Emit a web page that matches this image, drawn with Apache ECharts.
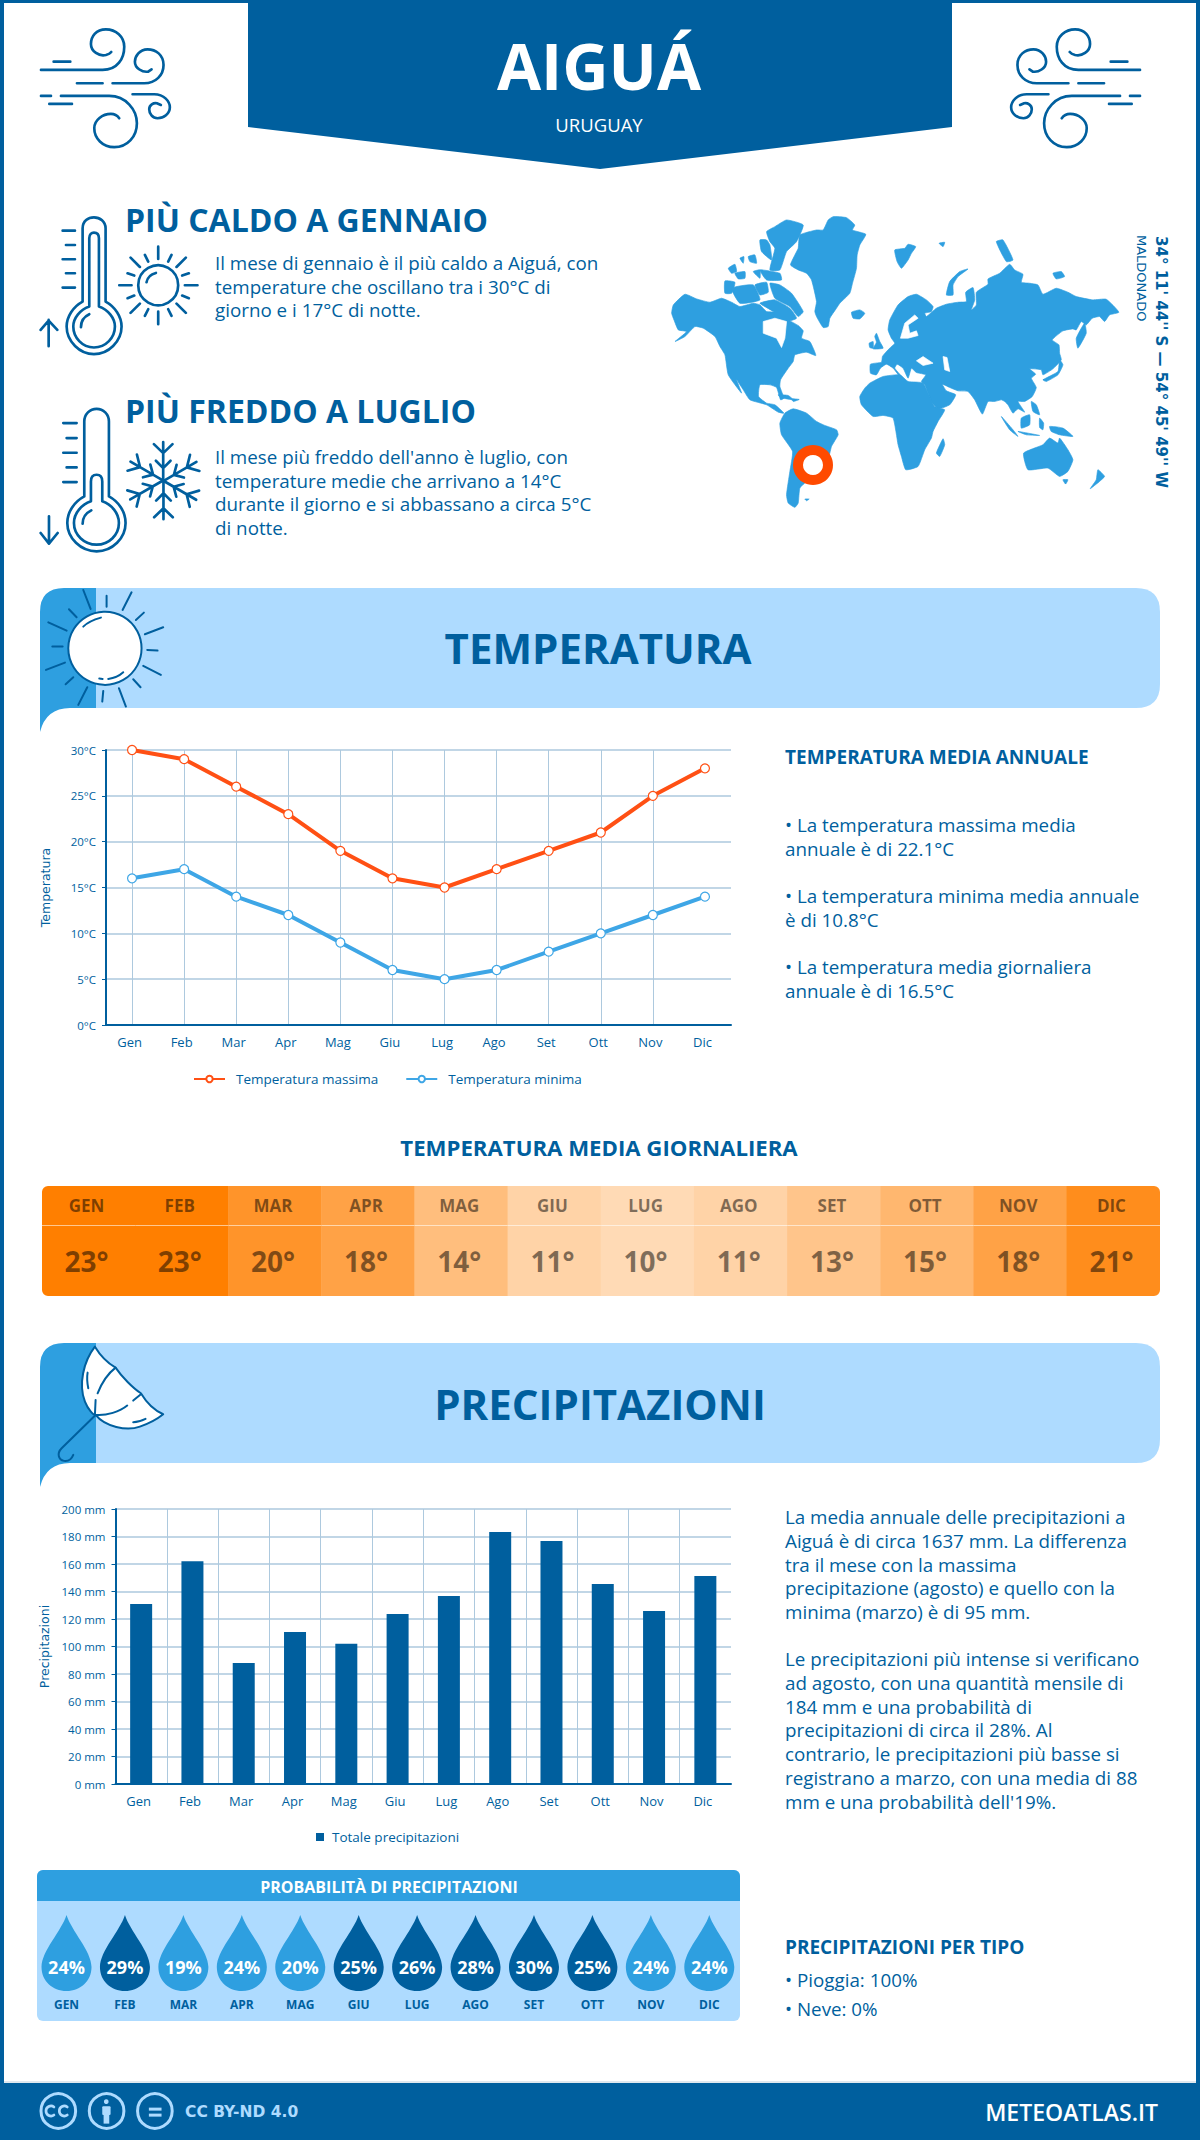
<!DOCTYPE html>
<html>
<head>
<meta charset="utf-8">
<title>Aiguá</title>
<style>
  html,body{margin:0;padding:0;background:#fff;}
  #main{width:1200px;height:2140px;}
</style>
<script src="https://cdn.jsdelivr.net/npm/echarts@6/dist/echarts.min.js"></script>
</head>
<body>
<div id="main"></div>
<script>
// ---- data ----
const MONTHS = ['Gen','Feb','Mar','Apr','Mag','Giu','Lug','Ago','Set','Ott','Nov','Dic'];
const MONTHS_UP = ['GEN','FEB','MAR','APR','MAG','GIU','LUG','AGO','SET','OTT','NOV','DIC'];
const TEMP_MAX = [30,29,26,23,19,16,15,17,19,21,25,28];
const TEMP_MIN = [16,17,14,12,9,6,5,6,8,10,12,14];
const TEMP_AVG = [23,23,20,18,14,11,10,11,13,15,18,21];
const PRECIP = [131,162,88,110.5,102,123.6,136.7,183.3,176.7,145.5,125.8,151.3];
const PRECIP_PROB = [24,29,19,24,20,25,26,28,30,25,24,24];

const HOT_LINES = ['Il mese di gennaio è il più caldo a Aiguá, con','temperature che oscillano tra i 30°C di','giorno e i 17°C di notte.'];
const COLD_LINES = ["Il mese più freddo dell'anno è luglio, con",'temperature medie che arrivano a 14°C','durante il giorno e si abbassano a circa 5°C','di notte.'];
const ANNUAL_1 = ['• La temperatura massima media','annuale è di 22.1°C'];
const ANNUAL_2 = ['• La temperatura minima media annuale','è di 10.8°C'];
const ANNUAL_3 = ['• La temperatura media giornaliera','annuale è di 16.5°C'];
const RAIN_1 = ['La media annuale delle precipitazioni a','Aiguá è di circa 1637 mm. La differenza','tra il mese con la massima','precipitazione (agosto) e quello con la','minima (marzo) è di 95 mm.'];
const RAIN_2 = ['Le precipitazioni più intense si verificano','ad agosto, con una quantità mensile di','184 mm e una probabilità di','precipitazioni di circa il 28%. Al','contrario, le precipitazioni più basse si','registrano a marzo, con una media di 88',"mm e una probabilità dell'19%."];

// ---- colours ----
const BLUE = '#005f9e';
const MID = '#2e9fe0';
const LIGHT = '#aedbff';
const GRIDC = '#adc9de';
const FONT = '"Open Sans", sans-serif';
const BODY = '18.8px ' + FONT;

// ---- graphic helpers ----
let shapeNo = 0;
function path(d, style){
  const name = 'p' + (++shapeNo);
  echarts.graphic.registerShape(name, echarts.graphic.extendPath(d));
  return { type:name, style:style };
}
function stroke(d, w, color){
  return path(d, { fill:'none', stroke:color || BLUE, lineWidth:w, lineCap:'round', lineJoin:'round' });
}
function text(x, y, str, font, fill, align){
  return { type:'text', x:x, y:y, style:{ text:str, font:font, fill:fill || BLUE, textAlign:align || 'left', textVerticalAlign:'middle' } };
}
function para(x, y, step, lines){
  return lines.map((s, i) => text(x, y + i * step, s, BODY));
}
function rect(x, y, w, h, fill, r){
  return { type:'rect', shape:{ x:x, y:y, width:w, height:h, r:r || 0 }, style:{ fill:fill } };
}
function crop(x, y, children, sx){
  return { type:'group', x:x, y:y, scaleX:sx || 1/3, scaleY:1/3, children:children };
}

// ---- icons (crop pixels, 3x) ----
const WIND = 'M30 150H215C260 150 280 115 280 80C280 50 255 28 225 28C195 28 180 50 180 72C180 95 205 110 225 105C232 103 238 100 241 96'
  + 'M68 125H118M138 190H215M245 190H340C375 190 398 165 398 135C398 105 375 88 350 88C325 88 312 110 312 125C312 145 335 158 352 155L362 148'
  + 'M30 228H60M90 228H235C285 228 318 270 318 310C318 350 290 382 250 382C215 382 190 355 190 325C190 300 215 282 240 282C252 282 260 288 265 295'
  + 'M55 252H123M305 223H370C400 223 417 245 417 262C417 282 398 295 380 295C365 295 355 282 355 268C355 255 368 248 378 250L390 255';
const THERMO_HOT = 'M158 290V70C158 48 175 37 192 37C210 37 227 50 227 70V290C255 305 275 335 275 365C275 410 235 448 192 448C150 448 110 410 110 365C110 335 130 305 158 290Z'
  + 'M178 305V100C178 88 185 83 192 83C200 83 207 88 207 100V305C235 315 255 340 255 365C255 398 228 428 192 428C157 428 130 398 130 365C130 340 150 315 178 305Z'
  + 'M153 367C153 350 163 335 178 328M98 77H135M108 120H135M98 163H135M108 205H135M98 248H135M56 424V345M32 375L56 347L82 375';
const SUN_RAYS = 'M385 125V162M385 320V358M268 241H305M465 241H503M302 158L330 186M468 158L440 186M302 324L330 296M468 324L440 296'
  + 'M345 150L355 170M425 150L415 170M293 205L313 212M477 205L457 212M293 280L313 272M477 280L457 272M345 333L355 313M425 333L415 313M350 232C352 220 362 208 378 204';
const THERMO_COLD = 'M163 875V650C163 628 180 612 200 612C220 612 237 628 237 650V875C265 890 287 920 287 955C287 1000 248 1040 200 1040C152 1040 112 1000 112 955C112 920 135 890 163 875Z'
  + 'M183 890V830C183 815 190 810 200 810C210 810 217 815 217 830V890C245 900 267 925 267 955C267 990 238 1020 200 1020C162 1020 132 990 132 955C132 925 155 900 183 890Z'
  + 'M158 957C158 940 168 925 184 917M100 655H140M110 700H140M100 744H140M110 788H140M100 832H140M57 935V1015M32 985L57 1017L83 985';
const FLAKE_ARM = 'M400 827V712M372 718L400 745L428 718M378 768L400 790L422 768';
const BIG_SUN_RAYS = 'M160 30L182 87M230 47V80M305 37L278 90M342 98L318 120M400 142L345 163M383 212L352 210M393 285L340 258M332 322L310 298M288 380L267 325M217 365L220 333M145 375L172 322M107 313L130 292M48 270L105 248M67 200L98 200M55 127L110 152M117 88L140 112';
const BIG_SUN_SHINE = 'M160 140C175 125 195 118 213 113M208 296L218 297M235 297C250 295 268 288 280 277';
const UMB_CANOPY = 'M195 35C160 80 145 150 165 200C175 225 190 240 197 240C225 275 290 290 330 275C360 265 385 250 400 238C370 225 345 195 333 175C310 160 275 125 257 98C235 85 210 60 195 35Z';
const UMB_LINES = 'M257 98C235 115 215 145 203 175M197 195L195 238M197 240C230 243 270 230 292 212M310 197L333 178M173 113C170 130 172 145 175 160M310 262C322 262 335 258 347 252M197 240L95 340C80 355 85 375 102 378C115 380 125 372 130 360';
const CC_C = 'M72 96C62 88 48 96 48 108C48 120 62 128 72 120M112 96C102 88 88 96 88 108C88 120 102 128 112 120';
const DROP = 'path://M50 0C60 40 100 90 100 130C100 165 78 190 50 190C22 190 0 165 0 130C0 90 40 40 50 0Z';

// map outlines, traced by hand in crop pixels
const MAP_LAND = [
  // Greenland
  '490,75 505,45 520,35 560,38 585,60 578,75 618,88 600,120 592,150 590,190 578,235 570,265 540,295 530,310 510,340 505,365 490,368 470,335 465,320 470,290 455,225 440,205 415,195 392,180 405,150 415,130 420,90 470,75',
  // North America
  '35,325 40,300 75,268 110,282 150,292 185,280 215,292 240,305 280,295 300,300 320,320 345,322 385,345 415,362 430,378 425,400 450,410 468,452 440,442 405,450 400,470 385,490 362,525 360,545 372,580 362,585 350,548 330,540 300,540 296,575 320,595 345,600 372,625 355,622 320,600 270,585 250,555 230,525 245,565 205,510 195,450 180,425 165,395 130,370 105,365 75,395 45,410 80,380 55,375 42,345',
  '300,295 345,285 390,310 410,340 380,350 345,335 340,320',
  // Arctic islands
  '320,80 345,65 380,45 430,60 410,110 380,140 360,195 330,195 345,130 330,110',
  '330,235 360,240 395,265 430,320 415,335 390,305 345,280',
  '195,228 225,232 215,265 195,265','215,250 280,240 300,285 240,295','205,190 225,178 230,200 215,205','225,205 255,200 255,220 235,222','280,200 300,195 300,220',
  '300,105 320,105 330,120 335,165 305,140','265,155 285,150 290,175 270,170','300,195 360,205 365,225 320,225','240,160 252,155 250,175',
  '285,240 320,232 325,262 300,270',
  // Caribbean
  '355,570 385,572 400,585 362,578','395,582 418,584 400,590',
  // South America
  '360,655 375,625 400,612 440,625 470,650 495,662 530,675 535,690 515,725 510,745 495,790 440,830 420,850 415,895 405,908 385,895 380,870 390,800 398,740 365,690',
  // Iceland, Svalbard, Novaya Zemlya, British Isles
  '575,322 600,315 615,325 600,342 580,340',
  '705,135 735,130 745,118 768,125 755,145 745,165 725,190 712,170','838,115 855,112 850,125',
  '860,270 870,230 900,200 925,192 895,215 880,240 880,270',
  '650,385 660,410 670,430 640,432 650,412 645,395','628,415 640,410 640,430 630,428',
  // Eurasia
  '632,505 632,478 665,472 668,455 680,440 695,425 705,415 695,400 685,375 690,345 715,300 745,275 770,268 800,285 820,305 815,320 795,325 800,335 830,310 860,298 895,292 920,290 918,262 940,248 945,285 935,315 950,300 950,262 985,238 985,222 1020,205 1050,178 1065,195 1090,208 1085,232 1110,235 1135,240 1150,268 1190,250 1225,262 1250,275 1300,285 1340,283 1378,322 1350,330 1335,350 1320,335 1298,340 1280,360 1265,350 1250,375 1240,372 1210,378 1178,405 1198,420 1200,445 1205,465 1180,492 1150,510 1145,495 1110,492 1128,508 1115,520 1130,548 1118,575 1095,590 1075,590 1095,622 1075,612 1060,625 1045,600 1035,590 1025,585 1005,590 985,590 968,628 945,585 925,560 895,558 870,548 848,538 860,558 888,570 870,600 835,612 815,590 795,540 785,530 798,510 770,503 755,490 745,520 730,490 712,478 705,490 735,525 720,515 700,490 680,478 662,490 650,510',
  // Africa
  '600,575 615,550 630,535 670,515 720,510 745,530 790,535 825,605 855,615 835,650 820,680 815,700 795,735 775,785 738,795 725,755 715,720 700,640 670,632 640,635 605,600',
  '830,745 850,702 855,720 840,755',
  // Indonesia, New Guinea, Australia, New Zealand
  '1025,635 1060,675 1075,695 1050,675','1075,680 1140,692 1100,690','1085,640 1110,630 1110,660 1085,670','1115,590 1130,600 1140,630 1120,620','1140,640 1152,655 1150,675 1140,668',
  '1170,665 1210,670 1240,695 1200,690 1175,680',
  '1092,745 1150,720 1170,700 1195,715 1200,700 1225,735 1240,765 1225,800 1200,815 1165,790 1105,795','1210,825 1225,825 1218,838',
  '1315,795 1335,815 1320,830 1292,852 1310,825',
  // Japan, Sakhalin, northern islands
  '1150,525 1195,500 1200,465 1210,480 1195,510 1160,530','1250,400 1275,355 1280,385 1255,430',
  '1010,110 1030,105 1060,165 1040,170','1180,205 1205,200 1215,215 1190,222','435,883 448,883 440,888'
];
const MAP_WATER = [
  '310,350 345,340 380,350 375,400 365,428 350,400 310,385',
  '770,468 790,455 820,475 790,482','850,455 862,458 870,500 855,495',
  '722,400 735,355 765,330 775,340 745,360 750,385 770,378 775,392 745,400'
];
function polys(list, color, smooth){
  return list.map(s => ({
    type:'polygon',
    shape:{ points:s.split(' ').map(p => p.split(',').map(Number)), smooth:smooth },
    style:{ fill:color, stroke:color, lineWidth:2, lineJoin:'round' }
  }));
}

// banner with the curled left edge
function banner(y){
  return [
    path(`M96 ${y}H1136Q1160 ${y} 1160 ${y+24}V${y+96}Q1160 ${y+120} 1136 ${y+120}H96Z`, { fill:LIGHT }),
    path(`M40 ${y+144}V${y+24}Q40 ${y} 64 ${y}H96V${y+120}H70Q46 ${y+120} 40 ${y+144}Z`, { fill:MID })
  ];
}

const FLAKE = [0,1,2,3,4,5].map(i => Object.assign(stroke(FLAKE_ARM, 8), { originX:400, originY:827, rotation:i * Math.PI / 3 }));

const graphics = [
  // frame and header
  rect(0, 0, 1200, 3, BLUE), rect(0, 0, 4, 2140, BLUE), rect(1196, 0, 4, 2140, BLUE),
  { type:'polygon', shape:{ points:[[248,0],[952,0],[952,127],[600,169],[248,127]] }, style:{ fill:BLUE } },
  text(599, 65, 'AIGUÁ', 'bold 64px ' + FONT, '#fff', 'center'),
  text(599, 124, 'URUGUAY', '18.5px ' + FONT, '#fff', 'center'),
  crop(31, 20, [stroke(WIND, 8)]),
  crop(1150, 20, [stroke(WIND, 8)], -1/3),

  // hottest and coldest month
  crop(30, 205, [
    stroke(THERMO_HOT, 8), stroke(SUN_RAYS, 8),
    { type:'circle', shape:{ cx:385, cy:241, r:60 }, style:{ fill:'none', stroke:BLUE, lineWidth:8 } },
    stroke(THERMO_COLD, 8)
  ].concat(FLAKE)),
  text(125, 219, 'PIÙ CALDO A GENNAIO', 'bold 32px ' + FONT),
  text(125, 410, 'PIÙ FREDDO A LUGLIO', 'bold 32px ' + FONT),
  ...para(215, 263, 23.5, HOT_LINES),
  ...para(215, 457, 23.7, COLD_LINES),

  // world map
  crop(660, 205, polys(MAP_LAND, MID, 0.15).concat(polys(MAP_WATER, '#fff', 0))),
  { type:'circle', shape:{ cx:813, cy:465, r:12 }, style:{ fill:'#fff' } },
  { type:'ring', shape:{ cx:813, cy:465, r:20, r0:10 }, style:{ fill:'#ff4a00' } },
  { type:'text', x:1161, y:362, rotation:-Math.PI / 2, style:{ text:"34° 11' 44'' S — 54° 45' 49'' W", font:'bold 15px "DejaVu Sans"', fill:BLUE, textAlign:'center', textVerticalAlign:'middle' } },
  { type:'text', x:1141, y:235, rotation:-Math.PI / 2, style:{ text:'MALDONADO', font:'13px "DejaVu Sans"', fill:BLUE, textAlign:'left', textVerticalAlign:'middle' } },

  // temperature section
  ...banner(588),
  crop(30, 580, [
    stroke(BIG_SUN_RAYS, 6),
    { type:'circle', shape:{ cx:225, cy:205, r:110 }, style:{ fill:'#fff', stroke:BLUE, lineWidth:6 } },
    stroke(BIG_SUN_SHINE, 6)
  ]),
  text(598, 647, 'TEMPERATURA', 'bold 42px ' + FONT, BLUE, 'center'),
  text(785, 757, 'TEMPERATURA MEDIA ANNUALE', 'bold 19px ' + FONT),
  ...para(785, 825, 23.5, ANNUAL_1),
  ...para(785, 896, 23.5, ANNUAL_2),
  ...para(785, 967, 23.5, ANNUAL_3),
  text(599, 1147, 'TEMPERATURA MEDIA GIORNALIERA', 'bold 22.2px ' + FONT, BLUE, 'center'),
  // round the corners of the heat table
  { type:'rect', z:10, shape:{ x:39, y:1183, width:1124, height:116, r:9 }, style:{ fill:'none', stroke:'#fff', lineWidth:6 } },

  // rain section
  ...banner(1343),
  crop(30, 1335, [
    path(UMB_CANOPY, { fill:'#fff', stroke:BLUE, lineWidth:6, lineJoin:'round' }),
    stroke(UMB_LINES, 6)
  ]),
  text(600, 1403, 'PRECIPITAZIONI', 'bold 42px ' + FONT, BLUE, 'center'),
  ...para(785, 1517, 23.8, RAIN_1),
  ...para(785, 1659, 23.8, RAIN_2),

  // rain probability panel
  rect(37, 1870, 703, 151, LIGHT, 6),
  rect(37, 1870, 703, 31, MID, [6,6,0,0]),
  text(389, 1887, 'PROBABILITÀ DI PRECIPITAZIONI', 'bold 16px ' + FONT, '#fff', 'center'),
  text(785, 1947, 'PRECIPITAZIONI PER TIPO', 'bold 19px ' + FONT),
  text(785, 1980, '• Pioggia: 100%', BODY),
  text(785, 2009, '• Neve: 0%', BODY),

  // footer
  rect(4, 2081, 1192, 2, '#dfe8ef'),
  rect(0, 2083, 1200, 57, BLUE),
  crop(30, 2075, [
    { type:'circle', shape:{ cx:85, cy:108, r:52 }, style:{ fill:'none', stroke:LIGHT, lineWidth:9 } },
    { type:'circle', shape:{ cx:230, cy:108, r:52 }, style:{ fill:'none', stroke:LIGHT, lineWidth:9 } },
    { type:'circle', shape:{ cx:375, cy:108, r:52 }, style:{ fill:'none', stroke:LIGHT, lineWidth:9 } },
    stroke(CC_C, 8, LIGHT),
    { type:'circle', shape:{ cx:229, cy:80, r:7 }, style:{ fill:LIGHT } },
    rect(217, 94, 25, 26, LIGHT, 3), rect(221, 115, 17, 31, LIGHT),
    rect(357, 98, 38, 9, LIGHT), rect(357, 116, 38, 9, LIGHT)
  ]),
  text(185, 2112, 'CC BY-ND 4.0', 'bold 15.5px "DejaVu Sans"', LIGHT),
  text(1158, 2112, 'METEOATLAS.IT', '600 23px ' + FONT, '#fff', 'right')
];

// ---- chart ----
const axisText = { color:BLUE, fontSize:11.5, fontFamily:FONT };
const monthText = { color:BLUE, fontSize:13, fontFamily:FONT };
const legendText = { color:BLUE, fontSize:13.5, fontFamily:FONT };
const titleText = { color:BLUE, fontSize:12.5, fontFamily:'"DejaVu Sans"' };
const hiddenY = { type:'category', data:[''], show:false };
const hiddenX = { type:'category', data:MONTHS_UP, show:false };

function valueAxis(gridIndex, max, interval, unit, name, gap){
  return {
    type:'value', gridIndex:gridIndex, min:0, max:max, interval:interval,
    name:name, nameLocation:'middle', nameGap:gap, nameTextStyle:titleText,
    axisLine:{ show:true, lineStyle:{ color:BLUE, width:2 } },
    axisTick:{ show:true, length:4, lineStyle:{ color:BLUE } },
    axisLabel:Object.assign({ margin:10, formatter:'{value}' + unit }, axisText),
    splitLine:{ show:true, lineStyle:{ color:GRIDC, width:1.5 } }
  };
}
function monthAxis(gridIndex, onCentre){
  return {
    type:'category', gridIndex:gridIndex, data:MONTHS,
    axisLine:{ show:true, lineStyle:{ color:BLUE, width:2 } },
    axisTick:{ show:false },
    axisLabel:Object.assign({ margin:10, interval:0, padding:[0,5,0,0] }, monthText),
    splitLine:{ show:true, alignWithLabel:onCentre, showMinLine:onCentre, showMaxLine:false, lineStyle:{ color:GRIDC, width:1 } }
  };
}
function lineSeries(name, values, color){
  return {
    type:'line', name:name, data:values, xAxisIndex:0, yAxisIndex:0,
    symbol:'circle', symbolSize:9, showAllSymbols:true,
    lineStyle:{ color:color, width:4 },
    itemStyle:{ color:'#fff', borderColor:color, borderWidth:1.2 }
  };
}
function heatSeries(axis, formatter, size){
  return {
    type:'heatmap', xAxisIndex:axis, yAxisIndex:axis,
    data:TEMP_AVG.map((v, i) => [i, 0, v]),
    label:{ show:true, offset:[-2,0], formatter:formatter, color:'rgba(0,0,0,0.5)', fontFamily:FONT, fontWeight:'bold', fontSize:size },
    emphasis:{ disabled:true }
  };
}

const chart = echarts.init(document.getElementById('main'), null, { renderer:'svg' });
chart.setOption({
  animation:false,
  backgroundColor:'#fff',
  graphic:{ elements:graphics },
  grid:[
    { left:106, top:750, width:625, height:275 },
    { left:115.5, top:1509, width:615.5, height:275 },
    { left:42, top:1186, width:1118, height:39 },
    { left:42, top:1226, width:1118, height:70 },
    { left:37.3, top:1915, width:701.2, height:76 }
  ],
  xAxis:[
    monthAxis(0, true),
    monthAxis(1, false),
    Object.assign({ gridIndex:2 }, hiddenX),
    Object.assign({ gridIndex:3 }, hiddenX),
    {
      type:'category', gridIndex:4, data:MONTHS_UP,
      axisLine:{ show:false }, axisTick:{ show:false }, splitLine:{ show:false },
      axisLabel:{ interval:0, margin:7, color:BLUE, fontFamily:FONT, fontWeight:'bold', fontSize:12 }
    }
  ],
  yAxis:[
    valueAxis(0, 30, 5, '°C', 'Temperatura', 54),
    valueAxis(1, 200, 20, ' mm', 'Precipitazioni', 63),
    Object.assign({ gridIndex:2 }, hiddenY),
    Object.assign({ gridIndex:3 }, hiddenY),
    { type:'value', gridIndex:4, min:0, max:1, show:false }
  ],
  legend:[
    {
      left:193, top:1072, padding:0, itemWidth:31, itemHeight:8, itemGap:27,
      data:['Temperatura massima','Temperatura minima'],
      textStyle:Object.assign({ padding:[0,0,0,6] }, legendText)
    },
    {
      left:316, top:1830, padding:0, itemWidth:8, itemHeight:8,
      data:[{ name:'Totale precipitazioni', icon:'rect' }],
      textStyle:Object.assign({ padding:[0,0,0,3] }, legendText)
    }
  ],
  visualMap:{
    show:false, seriesIndex:[3,4], dimension:2, min:10, max:23,
    inRange:{ color:['#ffdab5','#ff7f00'] }
  },
  series:[
    lineSeries('Temperatura massima', TEMP_MAX, '#ff5014'),
    lineSeries('Temperatura minima', TEMP_MIN, '#3ea6e6'),
    {
      type:'bar', name:'Totale precipitazioni', data:PRECIP, xAxisIndex:1, yAxisIndex:1,
      barWidth:22, itemStyle:{ color:BLUE }
    },
    heatSeries(2, p => MONTHS_UP[p.data[0]], 17),
    heatSeries(3, p => p.data[2] + '°', 28),
    {
      type:'scatter', xAxisIndex:4, yAxisIndex:4,
      data:PRECIP_PROB.map((v, i) => [i, 0.5, v]),
      symbol:DROP, symbolSize:[50,76], symbolKeepAspect:false,
      itemStyle:{ opacity:1, color:p => p.data[2] >= 25 ? BLUE : MID },
      label:{
        show:true, position:'inside', offset:[0,14],
        formatter:p => p.data[2] + '%',
        color:'#fff', fontFamily:FONT, fontWeight:'bold', fontSize:18
      },
      emphasis:{ disabled:true }
    }
  ]
});
</script>
</body>
</html>
